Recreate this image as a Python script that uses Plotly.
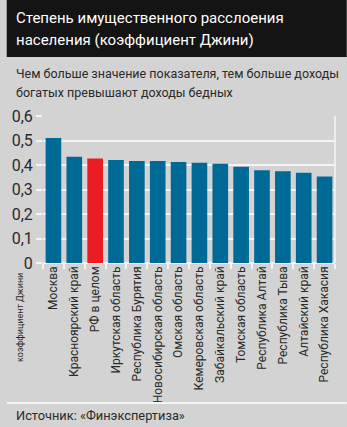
import plotly.graph_objects as go

categories = ["Москва", "Красноярский край", "РФ в целом", "Иркутская область",
              "Республика Бурятия", "Новосибирская область", "Омская область",
              "Кемеровская область", "Забайкальский край", "Томская область",
              "Республика Алтай", "Республика Тыва", "Алтайский край",
              "Республика Хакасия"]
gini = [0.510, 0.434, 0.427, 0.420, 0.416, 0.416, 0.412, 0.409, 0.405,
        0.393, 0.379, 0.375, 0.368, 0.353]
highlight = "РФ в целом"
y_ticks = [0, 0.1, 0.2, 0.3, 0.4, 0.5, 0.6]
y_tick_labels = ["0", "0,1", "0,2", "0,3", "0,4", "0,5", "0,6"]

title_lines = ["Степень имущественного расслоения", "населения (коэффициент Джини)"]
subtitle_lines = ["Чем больше значение показателя, тем больше доходы",
                  "богатых превышают доходы бедных"]
y_title = "коэффициент Джини"
source = "Источник: «Финэкспертиза»"

W, H = 347, 427
L, R, T, B = 37, 12, 116, 164
FONT = "Roboto, Liberation Sans, sans-serif"
BG = "#d3d3d3"
BLUE = "#006a97"
RED = "#ec1c24"
TXT = "#2a2a2a"

pw = W - L - R
ph = H - T - B


def px(x):
    return (x - L) / pw


def py(y):
    return (H - B - y) / ph


colors = [RED if c == highlight else BLUE for c in categories]

fig = go.Figure(go.Bar(x=categories, y=gini, marker=dict(color=colors, line=dict(width=0)),
                       hoverinfo="x+y"))

shapes = [
    dict(type="rect", xref="paper", yref="paper", x0=px(0), x1=px(W), y0=py(0), y1=py(57),
         fillcolor="#141414", line=dict(width=0), layer="below"),
    dict(type="line", xref="paper", yref="paper", x0=px(0), x1=px(W), y0=py(403), y1=py(403),
         line=dict(color="#f4f4f4", width=2)),
    dict(type="line", xref="paper", yref="y", x0=1, x1=1, y0=0, y1=0.6,
         line=dict(color="#f4f4f4", width=1.5)),
]

annotations = []
for i, t in enumerate(title_lines):
    annotations.append(dict(text=t, xref="paper", yref="paper", x=px(7), y=py(18 + 22 * i),
                            xanchor="left", yanchor="middle", showarrow=False,
                            font=dict(family=FONT, size=15, color="#ffffff")))
for i, t in enumerate(subtitle_lines):
    annotations.append(dict(text=t, xref="paper", yref="paper", x=px(7), y=py(74 + 18 * i),
                            xanchor="left", yanchor="middle", showarrow=False,
                            font=dict(family=FONT, size=12.5, color=TXT)))
annotations.append(dict(text=y_title, xref="paper", yref="paper", x=px(13), y=py(271),
                        xanchor="center", yanchor="top", textangle=-90, showarrow=False,
                        font=dict(family=FONT, size=9, color=TXT)))
annotations.append(dict(text=source, xref="paper", yref="paper", x=px(7), y=py(415),
                        xanchor="left", yanchor="middle", showarrow=False,
                        font=dict(family=FONT, size=12.8, color=TXT)))

fig.update_layout(
    width=W, height=H,
    margin=dict(l=L, r=R, t=T, b=B, pad=0),
    paper_bgcolor=BG, plot_bgcolor=BG,
    bargap=0.25,
    showlegend=False,
    shapes=shapes,
    annotations=annotations,
    font=dict(family=FONT, color=TXT),
    xaxis=dict(type="category", tickangle=-90, tickson="boundaries", ticks="outside",
               ticklen=5, tickcolor="#f4f4f4", tickwidth=1.5, showgrid=False,
               showline=False, tickfont=dict(family=FONT, size=12, color=TXT),
               fixedrange=True),
    yaxis=dict(range=[0, 0.6], tickvals=y_ticks, ticktext=y_tick_labels,
               showgrid=True, gridcolor="#f4f4f4", gridwidth=1.5,
               zeroline=True, zerolinecolor="#f4f4f4", zerolinewidth=1.5,
               ticks="outside", ticklen=6, tickcolor="#f4f4f4", tickwidth=1.5,
               showline=False, tickfont=dict(family=FONT, size=16, color=TXT),
               fixedrange=True),
)

fig.write_html("out.html", config={"displayModeBar": False})
